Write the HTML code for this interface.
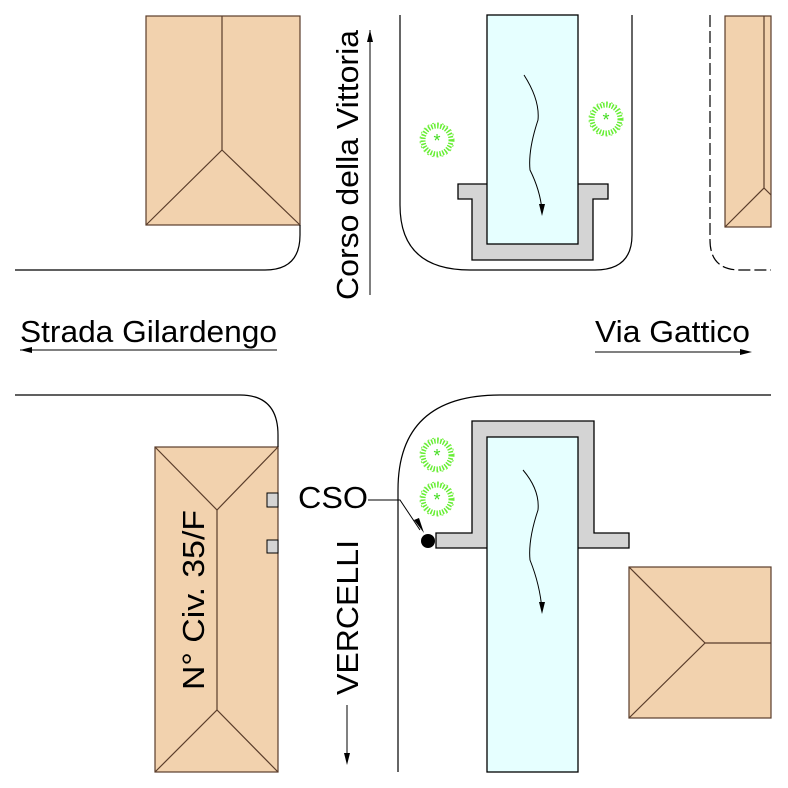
<!DOCTYPE html>
<html><head><style>body{margin:0;background:#fff}svg{display:block}</style></head><body>
<svg width="788" height="788" viewBox="0 0 788 788" xmlns="http://www.w3.org/2000/svg" font-family="Liberation Sans, sans-serif">
<defs>
<g id="tree"><circle r="14" fill="none" stroke="#66ee33" stroke-width="5" stroke-dasharray="1.5 1.5"/><circle r="17" fill="none" stroke="#77ee44" stroke-width="1" stroke-dasharray="2 3"/><text x="0" y="7" font-size="18" fill="#44dd22" text-anchor="middle">*</text></g>
</defs>
<g fill="#f2d2ae" stroke="#5a3d2b" stroke-width="1.2">
<rect x="146" y="16" width="154" height="209"/>
<polyline points="222,16 222,150 146,225" fill="none"/><line x1="222" y1="150" x2="300" y2="225"/>
<rect x="725" y="16" width="46" height="211"/>
<polyline points="764,16 764,188 725,227" fill="none"/><line x1="764" y1="188" x2="771" y2="195"/>
<rect x="155" y="447" width="123" height="325"/>
<polyline points="155,447 217,510 278,447" fill="none"/><line x1="217" y1="510" x2="217" y2="710"/>
<polyline points="155,772 217,710 278,772" fill="none"/>
<rect x="629" y="567" width="142" height="151"/>
<polyline points="629,567 705,643 629,718" fill="none"/><line x1="705" y1="643" x2="771" y2="643"/>
</g>
<g fill="none" stroke="#000" stroke-width="1.2">
<path d="M15 270 H265 Q300 270 300 235 V225"/>
<path d="M400 15 V205 Q400 270 470 270 H595 Q632 270 632 235 V15"/>
<path d="M710 15 V240 Q710 270 740 270 H771" stroke-dasharray="12 4"/>
<path d="M15 395 H240 Q278 395 278 435 V447"/>
<path d="M398 772 V490 Q398 395 500 395 H771"/>
</g>
<g stroke="#000" stroke-width="1.3">
<path d="M458 184 H608 V199 H593 V260 H472 V199 H458 Z" fill="#d4d4d4"/>
<rect x="487" y="15" width="91" height="229" fill="#e6ffff"/>
<path d="M472 421 H594 V533 H629 V548 H436 V533 H472 Z" fill="#d4d4d4"/>
<rect x="487" y="437" width="91" height="335" fill="#e6ffff"/>
</g>
<g fill="none" stroke="#000" stroke-width="1">
<path d="M524 75 Q540 100 538 120 Q528 150 530 170 Q540 190 542 210"/>
<path d="M523 470 Q540 490 538 510 Q528 540 530 560 Q540 585 542 610"/>
<path d="M370 30 V295"/><path d="M20 350 H277"/><path d="M595 352 H748"/><path d="M347 705 V763"/>
<path d="M368 500 H400 L420 530"/>
</g>
<g fill="#000">
<polygon points="539,204 545,204 542,216"/><polygon points="539,602 545,602 542,614"/>
<polygon points="370,30 367,42 373,42"/><polygon points="20,350 32,347 32,353"/>
<polygon points="752,352 740,349 740,355"/><polygon points="347,765 344,753 350,753"/>
<polygon points="414,520 419,518 424,533"/>
<circle cx="428" cy="541" r="7"/>
<rect x="267" y="493" width="11" height="14" fill="#d4d4d4" stroke="#000"/>
<rect x="267" y="540" width="11" height="13" fill="#d4d4d4" stroke="#000"/>
</g>
<use href="#tree" x="437" y="140"/><use href="#tree" x="606" y="119"/>
<use href="#tree" x="437" y="455"/><use href="#tree" x="437" y="499"/>
<g font-size="31" fill="#000">
<text x="20" y="342" textLength="257" lengthAdjust="spacingAndGlyphs">Strada Gilardengo</text>
<text x="595" y="342" textLength="155" lengthAdjust="spacingAndGlyphs">Via Gattico</text>
<text x="298" y="508" textLength="70" lengthAdjust="spacingAndGlyphs">CSO</text>
<text transform="translate(358,300) rotate(-90)" textLength="270" lengthAdjust="spacingAndGlyphs">Corso della Vittoria</text>
<text transform="translate(358,695) rotate(-90)" textLength="155" lengthAdjust="spacingAndGlyphs">VERCELLI</text>
<text transform="translate(204,690) rotate(-90)" textLength="180" lengthAdjust="spacingAndGlyphs">N° Civ. 35/F</text>
</g>
</svg>
</body></html>
